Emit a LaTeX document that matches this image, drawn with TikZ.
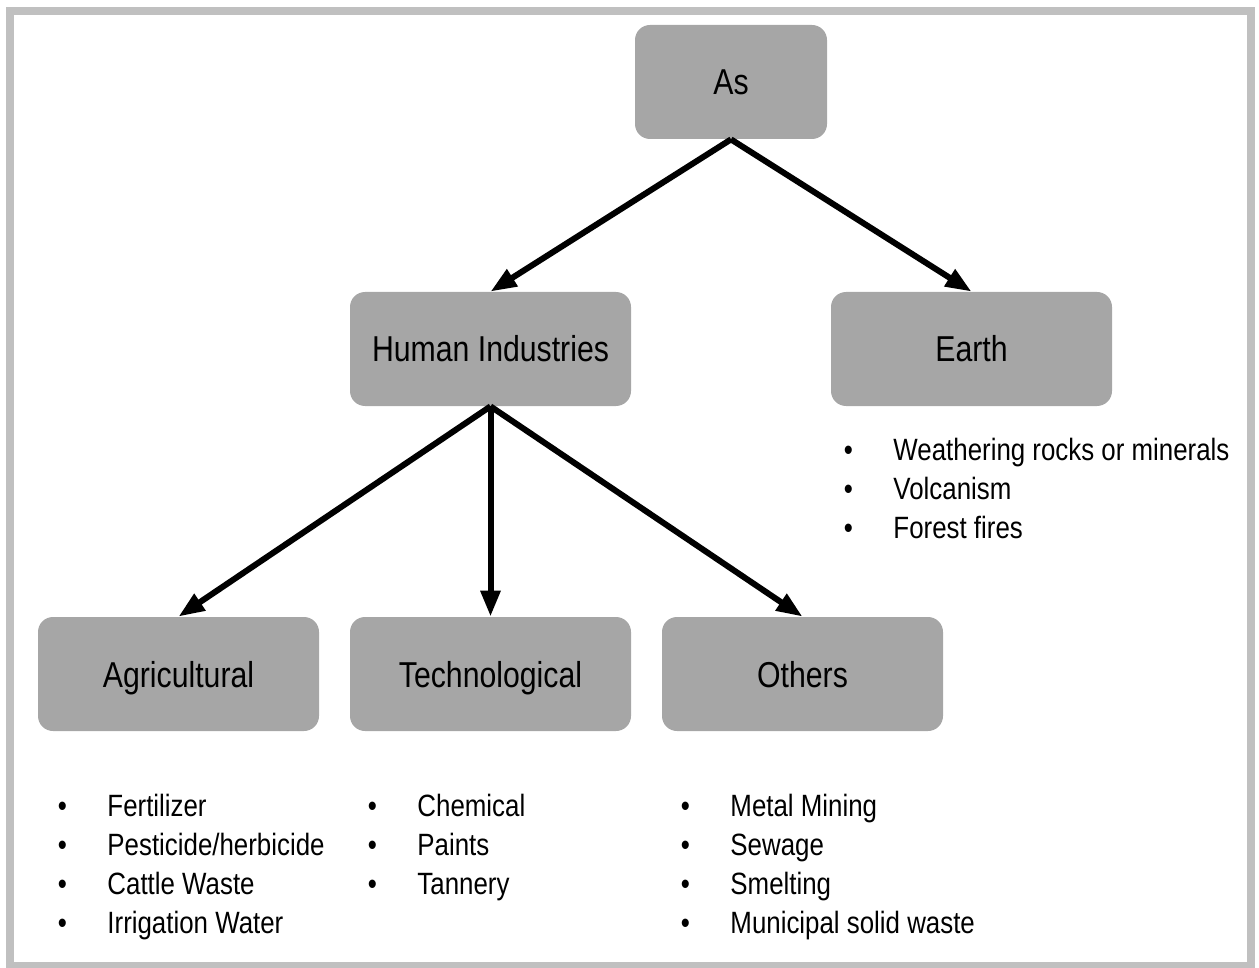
\documentclass[tikz,border=0pt]{standalone}
\usepackage{fontspec}
\setmainfont{Liberation Sans}[FakeStretch=0.84]
\usetikzlibrary{arrows.meta}
\definecolor{boxgray}{RGB}{166,166,166}
\definecolor{framegray}{RGB}{192,192,192}
\newcommand{\boxfont}{\fontsize{18}{21.6}\selectfont}
\newcommand{\listfont}{\fontsize{15.4}{19.5}\selectfont}
\tikzset{
  box/.style={fill=boxgray, rounded corners=7.5pt, minimum width=140.5pt,
    minimum height=57pt, text height=13pt, text depth=0pt, font=\boxfont},
  sourcelist/.style={anchor=north west, inner sep=0pt, font=\listfont},
}

\begin{document}
\begin{tikzpicture}[x=0.5pt, y=-0.5pt,
    level distance=133.5pt,
    level 1/.style={sibling distance=240.5pt},
    level 2/.style={sibling distance=156pt, level distance=162.5pt},
    edge from parent/.style={draw, line width=3pt, -{Triangle[length=13pt,width=9.5pt]}},
    parent anchor=south, child anchor=north,
  ]
\useasboundingbox (0,0) rectangle (1259,968);
\draw[framegray, line width=4pt] (10,11) rectangle (1251,966);

\node[box, minimum width=96pt] (as) at (731,82) {As}
child {node[box] (human) {Human Industries}
  child {node[box] (agri) {Agricultural}}
  child {node[box] (tech) {Technological}}
  child {node[box] (others) {Others}}
}
child {node[box] (earth) {Earth}}
;

% source lists
\node[sourcelist] (earthlist) at (843.5,432.7) {\begin{tabular}{@{}l@{\hspace{20.25pt}}l@{}}
•&Weathering rocks or minerals\\
•&Volcanism\\
•&Forest fires
\end{tabular}};
\node[sourcelist] (agrilist) at (57.5,788.7) {\begin{tabular}{@{}l@{\hspace{20.25pt}}l@{}}
•&Fertilizer\\
•&Pesticide/herbicide\\
•&Cattle Waste\\
•&Irrigation Water
\end{tabular}};
\node[sourcelist] (techlist) at (367.5,788.7) {\begin{tabular}{@{}l@{\hspace{20.25pt}}l@{}}
•&Chemical\\
•&Paints\\
•&Tannery
\end{tabular}};
\node[sourcelist] (otherslist) at (680.5,788.7) {\begin{tabular}{@{}l@{\hspace{20.25pt}}l@{}}
•&Metal Mining\\
•&Sewage\\
•&Smelting\\
•&Municipal solid waste
\end{tabular}};
\end{tikzpicture}
\end{document}
